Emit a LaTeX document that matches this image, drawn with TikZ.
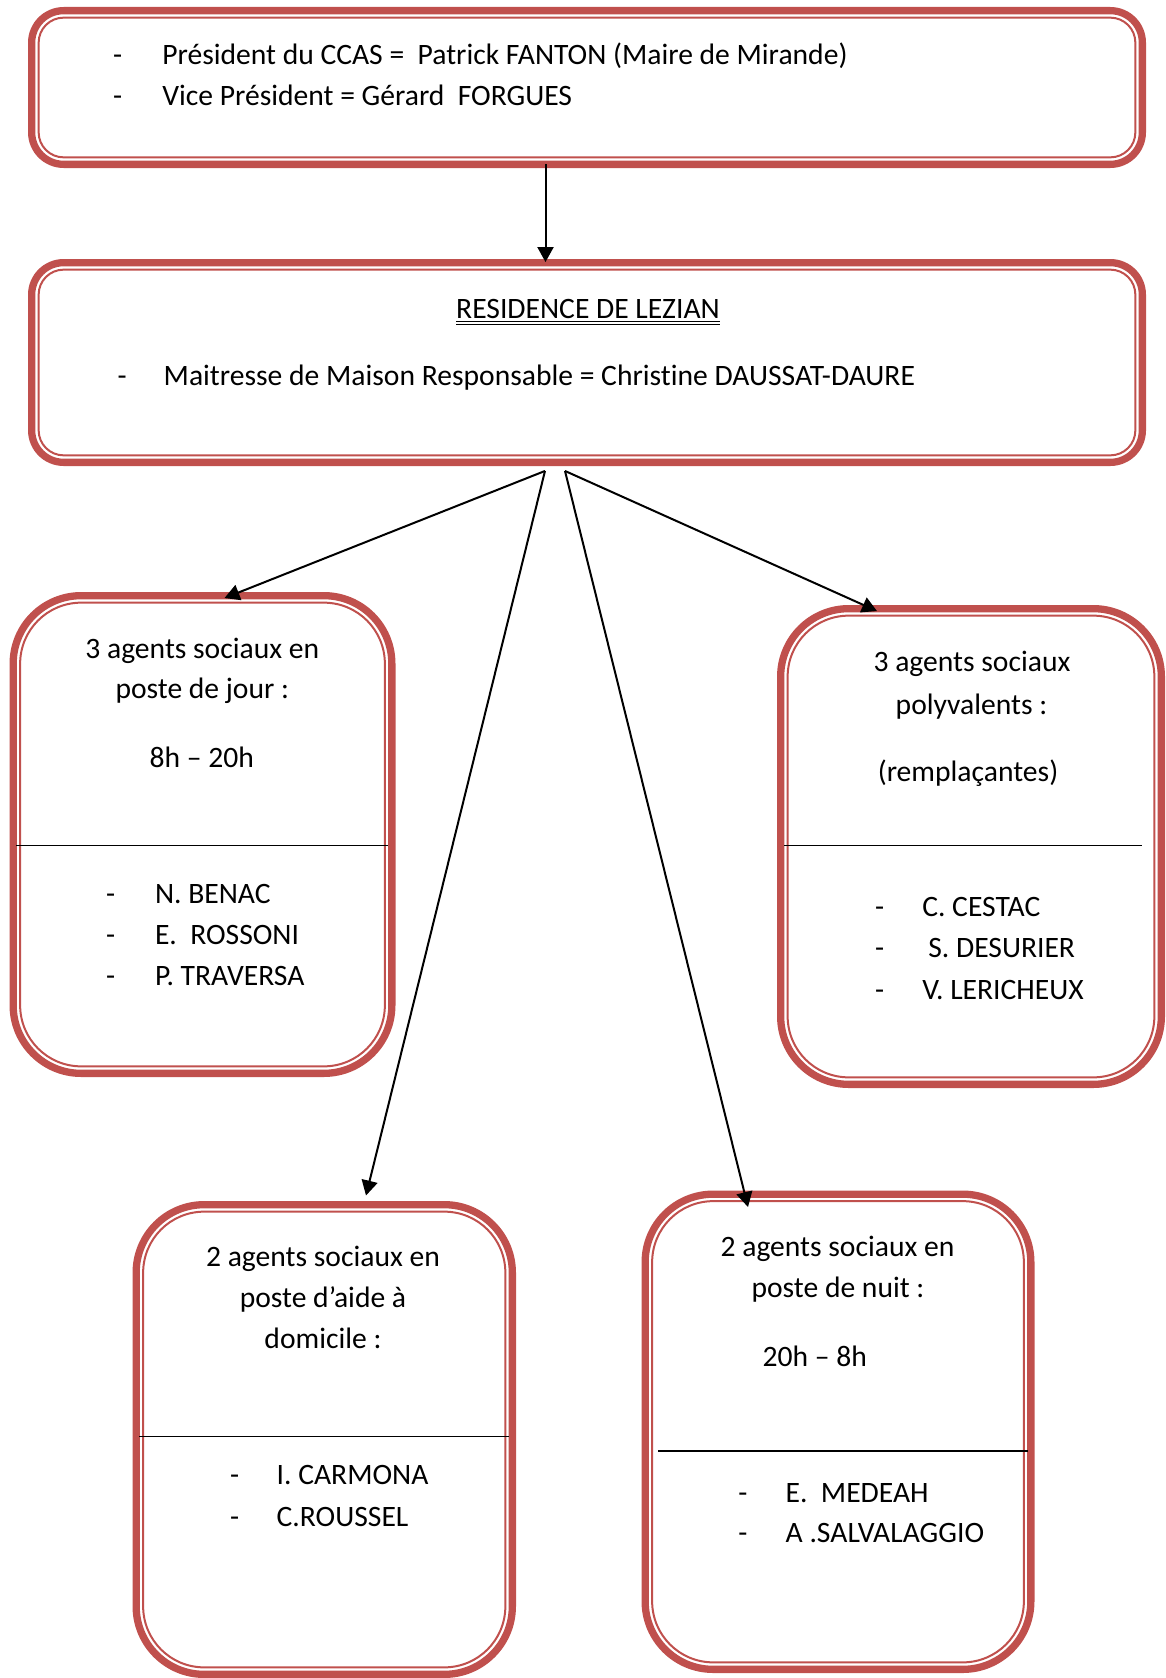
\documentclass[tikz,border=0pt]{standalone}
\usepackage{fontspec}
\setmainfont{Carlito}[Ligatures={NoCommon}]
\usetikzlibrary{arrows.meta,calc}
\definecolor{boxred}{HTML}{C0504D}
\begin{document}
\begin{tikzpicture}[x=1pt,y=-1pt,
  every node/.style={font=\fontsize{29.6}{35}\selectfont, inner sep=0pt, outer sep=0pt},
  obox/.style={draw=boxred, line width=7.3pt, rounded corners=#1, outer sep=0pt},
  ibox/.style={draw=boxred, line width=2pt, rounded corners=#1},
  divider/.style={draw=black, line width=1.4pt},
  arr/.style={draw=black, line width=2pt, -{Triangle[length=15pt,width=16pt]}},
  txt/.style={anchor=base west},
  ctxt/.style={anchor=base}
]
\useasboundingbox (0,0) rectangle (1165,1678);

% ---- boxes ----
\node[obox=32, minimum width=1110.7pt, minimum height=153.7pt] (top) at (587,87.5) {};
\node[obox=32, minimum width=1110.7pt, minimum height=199.7pt] (mid) at (587,362.5) {};
\node[obox=68, minimum width=378.7pt, minimum height=477.7pt] (jour) at (202.5,834.5) {};
\node[obox=68, minimum width=380.7pt, minimum height=475.7pt] (poly) at (971,846.5) {};
\node[obox=68, minimum width=376.2pt, minimum height=469.7pt] (dom) at (324.25,1439.5) {};
\node[obox=68, minimum width=385.7pt, minimum height=475.2pt] (nuit) at (838,1431.75) {};

\foreach \b/\r in {top/25, mid/25, jour/61, poly/61, dom/61, nuit/61}{
  \draw[ibox=\r] ([shift={(7,7)}]\b.north west) rectangle ([shift={(-7,-7)}]\b.south east);
}

% ---- dividers ----
\draw[divider] (16,845.5) -- (388,845.5);
\draw[divider] (784,845.5) -- (1141.5,845.5);
\draw[divider] (139,1436.5) -- (509,1436.5);
\draw[divider] (658,1451) -- (1028,1451);

% ---- top box text ----
\node[txt] (t1d) at (113,64) {-};
\node[txt] (t1) at (162.3,64) {Président du CCAS =\ \ Patrick FANTON (Maire de Mirande)};
\node[txt] (t2d) at (113,105) {-};
\node[txt] (t2) at (162.3,105) {Vice Président = Gérard\ \ FORGUES};

% ---- middle box text ----
\node[ctxt] (title) at (588,318) {RESIDENCE DE LEZIAN};
\draw[line width=1pt] ([shift={(0,3.5)}]title.base west) -- ([shift={(0,3.5)}]title.base east);
\draw[line width=1pt] ([shift={(0,6.5)}]title.base west) -- ([shift={(0,6.5)}]title.base east);
\node[txt] (m1d) at (117.7,385) {-};
\node[txt] (m1) at (163.7,385) {Maitresse de Maison Responsable = Christine DAUSSAT-DAURE};

% ---- jour ----
\node[ctxt] (j1) at (202.3,658.3) {3 agents sociaux en};
\node[ctxt] (j2) at (202.3,698.3) {poste de jour :};
\node[ctxt] (j3) at (201.7,767.3) {8h – 20h};
\node[txt] (j4d) at (106,903.3) {-};
\node[txt] (j4) at (155,903.3) {N. BENAC};
\node[txt] (j5d) at (106,944.3) {-};
\node[txt] (j5) at (155,944.3) {E.\ \ ROSSONI};
\node[txt] (j6d) at (106,985) {-};
\node[txt] (j6) at (155,985) {P. TRAVERSA};

% ---- polyvalents ----
\node[ctxt] (p1) at (972,671) {3 agents sociaux};
\node[ctxt] (p2) at (971.5,714) {polyvalents :};
\node[ctxt] (p3) at (968,781.7) {(remplaçantes)};
\node[txt] (p4d) at (875,916) {-};
\node[txt] (p4) at (922.3,916) {C. CESTAC};
\node[txt] (p5d) at (875,957.7) {-};
\node[txt] (p5) at (928.3,957.7) {S. DESURIER};
\node[txt] (p6d) at (875,999) {-};
\node[txt] (p6) at (922.3,999) {V. LERICHEUX};

% ---- domicile ----
\node[ctxt] (d1) at (323,1266.5) {2 agents sociaux en};
\node[ctxt] (d2) at (323,1307) {poste d’aide à};
\node[ctxt] (d3) at (323,1348.8) {domicile :};
\node[txt] (d4d) at (230,1484.3) {-};
\node[txt] (d4) at (276.7,1484.3) {I. CARMONA};
\node[txt] (d5d) at (230,1526) {-};
\node[txt] (d5) at (276.7,1526) {C.ROUSSEL};

% ---- nuit ----
\node[ctxt] (n1) at (837.5,1256.7) {2 agents sociaux en};
\node[ctxt] (n2) at (838,1297.3) {poste de nuit :};
\node[txt] (n3) at (762.7,1366) {20h – 8h};
\node[txt] (n4d) at (738.3,1502.3) {-};
\node[txt] (n4) at (785.7,1502.3) {E.\ \ MEDEAH};
\node[txt] (n5d) at (738.3,1542.3) {-};
\node[txt] (n5) at (785.7,1542.3) {A .SALVALAGGIO};

% ---- connectors ----
\coordinate (sL) at ([shift={(-42,8.6)}]mid.south);
\coordinate (sR) at ([shift={(-22,8.6)}]mid.south);
\draw[arr] ([shift={(-41.5,0)}]top.south) -- ([shift={(-41.5,-0.6)}]mid.north);
\draw[arr] (sL) -- ([shift={(22,2.4)}]jour.north);
\draw[arr] (sL) -- ([shift={(41.75,-9.15)}]dom.north);
\draw[arr] (sR) -- ([shift={(-94,2.4)}]poly.north);
\draw[arr] (sR) -- ([shift={(-90,12.85)}]nuit.north);
\end{tikzpicture}
\end{document}
